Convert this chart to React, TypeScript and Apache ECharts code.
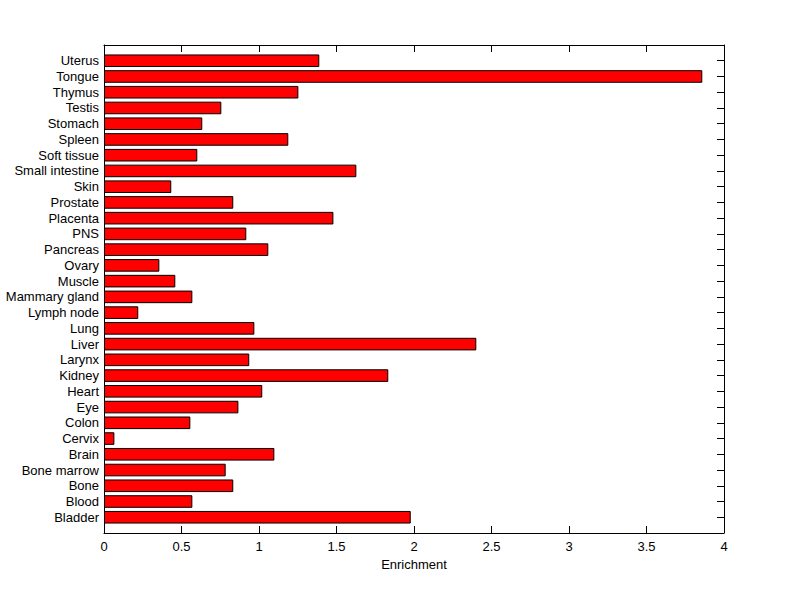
import React, { useEffect, useRef } from "react";
import * as echarts from "echarts";

const categories = [
  "Bladder", "Blood", "Bone", "Bone marrow", "Brain", "Cervix", "Colon", "Eye", "Heart", "Kidney",
  "Larynx", "Liver", "Lung", "Lymph node", "Mammary gland", "Muscle", "Ovary", "Pancreas", "PNS", "Placenta",
  "Prostate", "Skin", "Small intestine", "Soft tissue", "Spleen", "Stomach", "Testis", "Thymus", "Tongue", "Uterus",
];
const enrichment = [
  1.979, 0.57, 0.834, 0.785, 1.099, 0.067, 0.557, 0.867, 1.021, 1.834,
  0.937, 2.402, 0.97, 0.221, 0.57, 0.46, 0.357, 1.06, 0.918, 1.48,
  0.834, 0.434, 1.628, 0.602, 1.189, 0.634, 0.757, 1.254, 3.86, 1.389,
];
const xTicks = { min: 0, max: 4, interval: 0.5 };

const FONT = "'Liberation Sans', Arial, sans-serif";

function axisLine() {
  return { show: true, onZero: false, lineStyle: { color: "#000", width: 1 } };
}
function tick() {
  return { show: true, inside: true, length: 7, interval: 0, lineStyle: { color: "#000", width: 1 } };
}

export default function App() {
  const ref = useRef<HTMLDivElement>(null);
  useEffect(() => {
    if (!ref.current) return;
    const chart = echarts.init(ref.current, null, { renderer: "svg" });
    const yData = ["", ...categories, ""];
    const seriesData = ["-", ...enrichment, "-"];
    chart.setOption({
      animation: false,
      backgroundColor: "#fff",
      textStyle: { fontFamily: FONT },
      grid: { left: 104, top: 45, width: 620, height: 488, containLabel: false },
      xAxis: [
        {
          type: "value",
          position: "bottom",
          min: xTicks.min,
          max: xTicks.max,
          interval: xTicks.interval,
          splitLine: { show: false },
          axisLine: axisLine(),
          axisTick: tick(),
          axisLabel: { color: "#000", fontSize: 13, fontFamily: FONT, margin: 7 },
          name: "Enrichment",
          nameLocation: "middle",
          nameGap: 24,
          nameTextStyle: { color: "#000", fontSize: 13, fontFamily: FONT },
        },
        {
          type: "value",
          position: "top",
          min: xTicks.min,
          max: xTicks.max,
          interval: xTicks.interval,
          splitLine: { show: false },
          axisLine: axisLine(),
          axisTick: tick(),
          axisLabel: { show: false },
        },
      ],
      yAxis: [
        {
          type: "category",
          position: "left",
          data: yData,
          boundaryGap: false,
          axisLine: axisLine(),
          axisTick: tick(),
          axisLabel: { color: "#000", fontSize: 13, fontFamily: FONT, margin: 5, interval: 0 },
          splitLine: { show: false },
        },
        {
          type: "category",
          position: "right",
          data: yData,
          boundaryGap: false,
          axisLine: axisLine(),
          axisTick: tick(),
          axisLabel: { show: false },
          splitLine: { show: false },
        },
      ],
      series: [
        {
          type: "bar",
          xAxisIndex: 0,
          yAxisIndex: 0,
          data: seriesData,
          barCategoryGap: "20%",
          itemStyle: { color: "#ff0000", borderColor: "#000", borderWidth: 1 },
        },
      ],
    });
    return () => chart.dispose();
  }, []);
  return (
    <div
      ref={ref}
      style={{ position: "fixed", left: 0, top: 0, width: 800, height: 599, background: "#fff" }}
    />
  );
}
